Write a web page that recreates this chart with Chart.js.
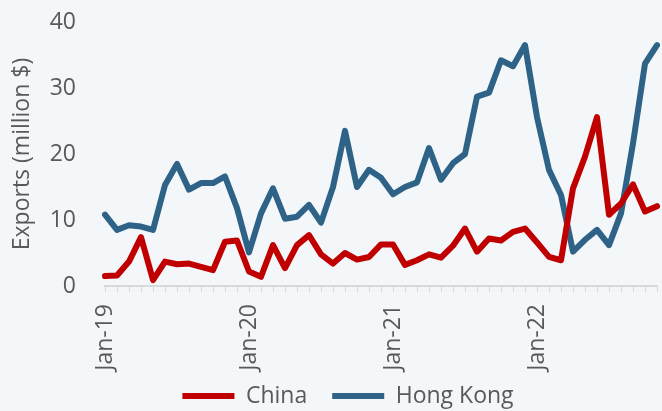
<!DOCTYPE html>
<html>
<head>
<meta charset="utf-8">
<script src="https://cdn.jsdelivr.net/npm/chart.js@4.4.1/dist/chart.umd.min.js"></script>
<style>
  html, body { margin: 0; padding: 0; background: #f3f7f9; }
</style>
</head>
<body>
<canvas id="grafico" width="662" height="411"></canvas>
<script>
// Exportações mensais (milhões de $)
const meses = [
  'Jan-19','Feb-19','Mar-19','Apr-19','May-19','Jun-19','Jul-19','Aug-19','Sep-19','Oct-19','Nov-19','Dec-19',
  'Jan-20','Feb-20','Mar-20','Apr-20','May-20','Jun-20','Jul-20','Aug-20','Sep-20','Oct-20','Nov-20','Dec-20',
  'Jan-21','Feb-21','Mar-21','Apr-21','May-21','Jun-21','Jul-21','Aug-21','Sep-21','Oct-21','Nov-21','Dec-21',
  'Jan-22','Feb-22','Mar-22','Apr-22','May-22','Jun-22','Jul-22','Aug-22','Sep-22','Oct-22','Nov-22'
];
const labelsVisiveis = ['Jan-19', 'Jan-20', 'Jan-21', 'Jan-22'];

const china = [
  1.5, 1.6, 3.7, 7.4, 0.9, 3.7, 3.3, 3.4, 2.9, 2.4, 6.7, 6.9,
  2.2, 1.4, 6.2, 2.7, 6.2, 7.7, 4.8, 3.4, 5.0, 4.0, 4.4, 6.3,
  6.3, 3.2, 3.9, 4.8, 4.3, 6.1, 8.7, 5.2, 7.2, 6.9, 8.2, 8.7,
  6.6, 4.4, 3.9, 14.8, 19.6, 25.6, 10.8, 12.5, 15.4, 11.3, 12.1
];
const hongKong = [
  10.8, 8.5, 9.2, 9.0, 8.5, 15.3, 18.5, 14.6, 15.6, 15.6, 16.6, 11.8,
  5.1, 11.0, 14.8, 10.2, 10.5, 12.3, 9.6, 15.0, 23.5, 15.0, 17.6, 16.4,
  13.9, 15.0, 15.7, 20.9, 16.1, 18.6, 20.0, 28.7, 29.3, 34.2, 33.3, 36.5,
  25.6, 17.6, 13.8, 5.2, 7.0, 8.5, 6.2, 11.0, 21.6, 33.7, 36.5
];
const yTicks = [0, 10, 20, 30, 40];

Chart.defaults.font.family = "'Open Sans', 'Noto Sans', sans-serif";
Chart.defaults.font.size = 23;
Chart.defaults.color = '#595959';

const AREA_TOPO = 22;
const AREA_BASE = 286;
const LEGENDA_PAD = 25;

// ajusta a legenda e a área dos rótulos do eixo x
const ajustes = {
  id: 'ajustes',
  afterLayout(chart) {
    const lg = chart.legend;
    const sx = chart.scales.x;
    sx.bottom = chart.height;
    if (lg) {
      const h = lg.bottom - lg.top;
      lg.top = 395 - (LEGENDA_PAD + 10.5);
      lg.bottom = lg.top + h;
      const dx = 348 - (lg.left + lg.right) / 2;
      lg.left += dx; lg.right += dx;
    }
  }
};

const ctx = document.getElementById('grafico').getContext('2d');
new Chart(ctx, {
  type: 'line',
  data: {
    labels: meses,
    datasets: [
      {
        label: 'China',
        data: china,
        borderColor: '#c00000',
        backgroundColor: '#c00000',
        borderWidth: 6,
        borderCapStyle: 'round',
        borderJoinStyle: 'round',
        pointRadius: 0,
        tension: 0
      },
      {
        label: 'Hong Kong',
        data: hongKong,
        borderColor: '#2e6286',
        backgroundColor: '#2e6286',
        borderWidth: 6,
        borderCapStyle: 'round',
        borderJoinStyle: 'round',
        pointRadius: 0,
        tension: 0
      }
    ]
  },
  options: {
    responsive: false,
    animation: false,
    layout: { padding: { left: 0, right: 5, top: 0, bottom: 0 } },
    plugins: {
      legend: {
        position: 'bottom',
        labels: {
          usePointStyle: true,
          pointStyle: 'line',
          pointStyleWidth: 52,
          boxHeight: 6,
          padding: LEGENDA_PAD,
          color: '#595959'
        }
      },
      tooltip: { enabled: false }
    },
    scales: {
      x: {
        offset: false,
        grid: {
          display: true,
          drawOnChartArea: false,
          drawTicks: true,
          tickLength: 6,
          color: '#d9d9d9'
        },
        border: { display: true, color: '#d9d9d9', width: 2 },
        ticks: {
          autoSkip: false,
          maxRotation: 90,
          minRotation: 90,
          padding: 12,
          callback: function(v, i) {
            const l = meses[i];
            return labelsVisiveis.includes(l) ? l : '';
          }
        },
        afterFit(scale) {
          const lg = scale.chart.legend;
          const hLeg = lg ? lg.height : 0;
          scale.height = scale.chart.height - AREA_BASE - hLeg;
          scale.paddingLeft = 0;
          scale.paddingRight = 0;
        }
      },
      y: {
        min: yTicks[0],
        max: yTicks[yTicks.length - 1],
        grid: { display: false, drawTicks: false },
        border: { display: false },
        ticks: { stepSize: 10, padding: 29 },
        title: {
          display: true,
          text: 'Exports (million $)',
          padding: { top: 9, bottom: 0 }
        },
        afterFit(scale) {
          scale.width = 105;
          scale.paddingTop = AREA_TOPO;
          scale.paddingBottom = 0;
        }
      }
    }
  },
  plugins: [ajustes]
});
</script>
</body>
</html>
